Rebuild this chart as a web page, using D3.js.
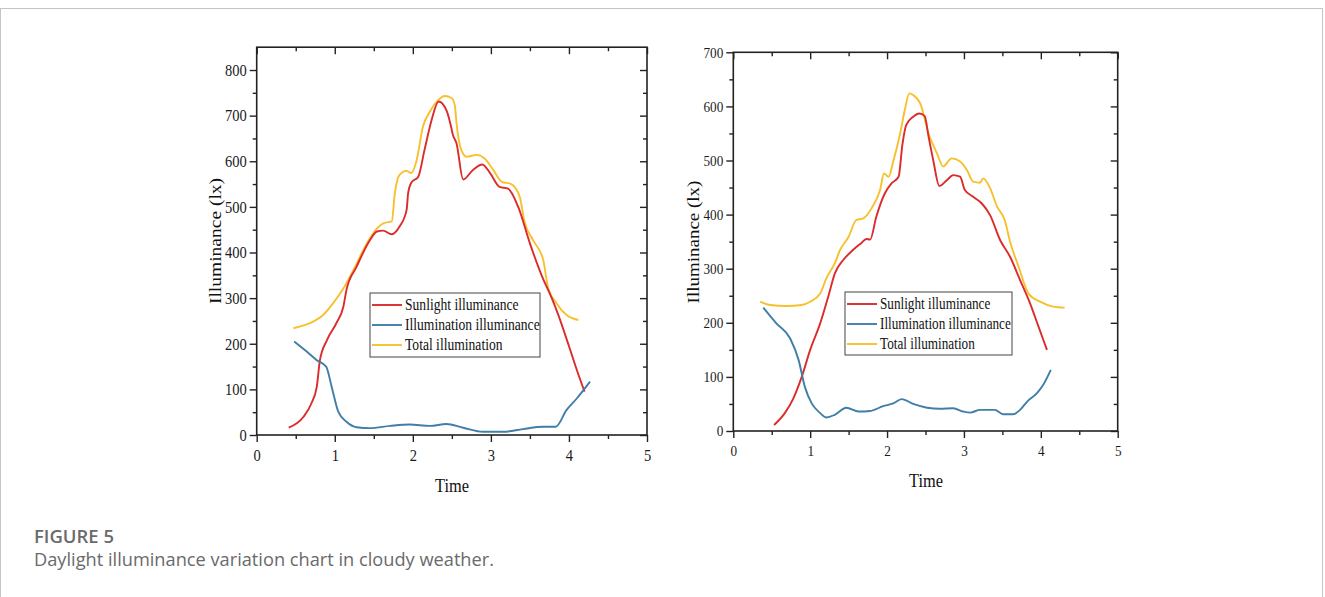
<!DOCTYPE html>
<html>
<head>
<meta charset="utf-8">
<script src="https://cdn.jsdelivr.net/npm/d3@7"></script>
<style>
  html, body { margin: 0; padding: 0; background: #ffffff; }
  svg { display: block; }
</style>
</head>
<body>
<svg id="chart" width="1325" height="597"></svg>
<script>
// ---------- data ----------
const xTicks = [0, 1, 2, 3, 4, 5];
const leftYTicks = [0, 100, 200, 300, 400, 500, 600, 700, 800];
const rightYTicks = [0, 100, 200, 300, 400, 500, 600, 700];
const seriesNames = ["Sunlight illuminance", "Illumination illuminance", "Total illumination"];

const leftSunTime = [0.41,0.6,0.7,0.77,0.81,0.9,1.02,1.11,1.15,1.28,1.45,1.54,1.62,1.73,1.83,1.92,1.94,1.98,2.07,2.15,2.24,2.33,2.43,2.5,2.51,2.56,2.645,2.77,2.89,2.99,3.11,3.22,3.35,3.5,3.65,3.78,3.86,4.0,4.1,4.2];
const leftSunLux  = [16,40,69,106,164,208,245,281,318,369,427,446,448,440,457,493,530,553,566,625,690,731,712,668,660,639,560,581,593,574,544,540,500,420,350,300,265,195,143,95];

const leftIllTime = [0.48,0.64,0.77,0.89,0.96,1.045,1.15,1.28,1.45,1.71,1.96,2.22,2.43,2.645,2.9,3.16,3.41,3.67,3.83,3.97,4.1,4.27];
const leftIllLux  = [205,183,164,150,106,51,29,17,15,20,23,20,24,16,7,7,13,18,18,55,80,117];

const leftTotTime = [0.47,0.68,0.85,0.98,1.11,1.24,1.41,1.54,1.62,1.73,1.77,1.83,1.92,1.98,2.05,2.13,2.22,2.33,2.41,2.5,2.54,2.56,2.62,2.69,2.82,2.92,3.03,3.14,3.26,3.37,3.43,3.54,3.67,3.73,3.84,3.97,4.12];
const leftTotLux  = [234,245,263,289,321,362,420,453,464,468,530,570,579,574,603,676,709,735,743,738,720,683,625,610,614,606,581,555,550,522,468,427,384,325,289,263,252];

const rightSunTime = [0.53,0.67,0.78,0.89,1.0,1.13,1.24,1.32,1.43,1.56,1.67,1.73,1.78,1.86,1.97,2.06,2.15,2.2,2.25,2.34,2.42,2.49,2.54,2.6,2.68,2.78,2.86,2.95,3.01,3.12,3.23,3.34,3.47,3.6,3.73,3.86,3.97,4.08];
const rightSunLux  = [11,33,60,100,150,199,251,291,316,335,348,355,354,396,439,458,470,530,566,581,587,582,544,501,453,464,473,470,446,433,421,399,353,322,279,236,193,150];

const rightIllTime = [0.39,0.56,0.74,0.85,0.93,1.02,1.13,1.21,1.32,1.47,1.63,1.78,1.95,2.08,2.19,2.34,2.52,2.69,2.86,2.99,3.08,3.21,3.4,3.51,3.64,3.73,3.82,3.95,4.03,4.13];
const rightIllLux  = [228,199,171,131,82,51,33,25,30,43,36,37,46,51,59,50,43,41,42,36,34,39,39,31,31,39,54,70,85,113];

const rightTotTime = [0.35,0.48,0.69,0.89,1.0,1.13,1.21,1.32,1.39,1.5,1.6,1.69,1.8,1.91,1.96,2.02,2.08,2.17,2.23,2.29,2.34,2.43,2.54,2.65,2.73,2.84,2.95,3.04,3.12,3.21,3.25,3.34,3.43,3.53,3.6,3.71,3.84,3.99,4.16,4.31];
const rightTotLux  = [239,233,231,233,239,254,282,310,335,359,390,393,412,446,476,470,498,550,593,624,621,606,550,513,489,504,498,482,461,459,467,449,415,390,350,304,254,239,230,228];

// ---------- styles ----------
const colors = ["#dc2b2b", "#3f7fa7", "#f6c12c"];
const serif = "'Liberation Serif', 'Times New Roman', serif";
const sans = "'Open Sans', 'Noto Sans', sans-serif";
const squeeze = 0.84; // the original figure is horizontally compressed

const svg = d3.select("#chart");

// outer frame
svg.append("rect").attr("x", 0.5).attr("y", 8.5).attr("width", 1322).attr("height", 600)
  .attr("fill", "#ffffff").attr("stroke", "#c4c4c4").attr("stroke-width", 1);

function zip(t, v) { return t.map((d, i) => ({ t: d, v: v[i] })); }

function drawPanel(cfg) {
  const x = d3.scaleLinear().domain([0, 5]).range([cfg.left, cfg.right]);
  const y = d3.scaleLinear().domain([0, cfg.yMax]).range([cfg.bottom, cfg.top]);
  const g = svg.append("g");
  const minorX = d3.range(0.5, 5, 1);
  const minorY = d3.range(50, cfg.yMax, 100);

  // series
  const line = d3.line().x(d => x(d.t)).y(d => y(d.v)).curve(d3.curveMonotoneX);
  [2, 0, 1].forEach(i => {
    g.append("path").datum(zip(cfg.series[i][0], cfg.series[i][1]))
      .attr("fill", "none").attr("stroke", colors[i]).attr("stroke-width", 1.9)
      .attr("stroke-linejoin", "round").attr("d", line);
  });

  const styleAxis = sel => {
    sel.select(".domain").remove();
    sel.selectAll(".tick line").attr("stroke", "#222").attr("stroke-width", 1.4);
    sel.selectAll(".tick text").attr("fill", "#1a1a1a").style("font-family", serif)
      .style("font-size", cfg.tickFont + "px").attr("transform", "scale(0.88,1)");
  };

  // bottom
  g.append("g").attr("transform", `translate(0,${cfg.bottom})`)
    .call(d3.axisBottom(x).tickValues(xTicks).tickSize(7).tickPadding(7).tickFormat(d3.format("d"))).call(styleAxis);
  g.append("g").attr("transform", `translate(0,${cfg.bottom})`)
    .call(d3.axisBottom(x).tickValues(minorX).tickSize(4).tickFormat("")).call(styleAxis);
  // top (inward)
  g.append("g").attr("transform", `translate(0,${cfg.top})`)
    .call(d3.axisTop(x).tickValues(xTicks).tickSize(-7).tickFormat("")).call(styleAxis);
  g.append("g").attr("transform", `translate(0,${cfg.top})`)
    .call(d3.axisTop(x).tickValues(minorX).tickSize(-4).tickFormat("")).call(styleAxis);
  // left
  g.append("g").attr("transform", `translate(${cfg.left},0)`)
    .call(d3.axisLeft(y).tickValues(cfg.yTicks).tickSize(7).tickPadding(3).tickFormat(d3.format("d")))
    .call(styleAxis)
    .call(s => s.selectAll(".tick text").attr("x", -10 / 0.88));
  g.append("g").attr("transform", `translate(${cfg.left},0)`)
    .call(d3.axisLeft(y).tickValues(minorY).tickSize(4).tickFormat("")).call(styleAxis);
  // right (inward)
  g.append("g").attr("transform", `translate(${cfg.right},0)`)
    .call(d3.axisRight(y).tickValues(cfg.yTicks).tickSize(-7).tickFormat("")).call(styleAxis);
  g.append("g").attr("transform", `translate(${cfg.right},0)`)
    .call(d3.axisRight(y).tickValues(minorY).tickSize(-4).tickFormat("")).call(styleAxis);

  // frame
  g.append("rect").attr("x", cfg.left).attr("y", cfg.top)
    .attr("width", cfg.right - cfg.left).attr("height", cfg.bottom - cfg.top)
    .attr("fill", "none").attr("stroke", "#222").attr("stroke-width", 1.6);

  // axis titles
  g.append("text").attr("transform", `translate(${cfg.timeX},${cfg.timeY}) scale(${squeeze},1)`)
    .attr("text-anchor", "middle").style("font-family", serif).style("font-size", "19.5px")
    .attr("fill", "#111").text("Time");
  g.append("text").attr("transform", `translate(${cfg.ytX},${cfg.ytY}) rotate(-90) scale(1,${squeeze})`)
    .attr("text-anchor", "middle").style("font-family", serif).style("font-size", cfg.ytFont + "px")
    .attr("fill", "#111").text("Illuminance (lx)");

  // legend
  const lg = g.append("g").attr("transform", `translate(${cfg.legX},${cfg.legY})`);
  lg.append("rect").attr("x", 0).attr("y", 0).attr("width", cfg.legW).attr("height", cfg.legH)
    .attr("fill", "#fff").attr("stroke", "#444").attr("stroke-width", 1);
  seriesNames.forEach((name, i) => {
    const yy = 12 + i * 20;
    lg.append("line").attr("x1", 2).attr("x2", 32).attr("y1", yy).attr("y2", yy)
      .attr("stroke", colors[i]).attr("stroke-width", 1.9);
    lg.append("text").attr("transform", `translate(35,${yy + 5}) scale(0.8,1)`)
      .style("font-family", serif).style("font-size", cfg.legFont + "px").attr("fill", "#111").text(name);
  });
}

drawPanel({
  left: 256.7, right: 647, top: 47.2, bottom: 435, yMax: 850, yTicks: leftYTicks,
  tickFont: 16.5, timeX: 452, timeY: 491.5, ytX: 221, ytY: 241, ytFont: 19.5,
  legX: 370, legY: 293, legW: 170, legH: 64, legFont: 17,
  series: [[leftSunTime, leftSunLux], [leftIllTime, leftIllLux], [leftTotTime, leftTotLux]]
});

drawPanel({
  left: 733.3, right: 1117.7, top: 52.3, bottom: 431, yMax: 700, yTicks: rightYTicks,
  tickFont: 15, timeX: 926, timeY: 487, ytX: 699, ytY: 242, ytFont: 19,
  legX: 845, legY: 292, legW: 167, legH: 63, legFont: 16.5,
  series: [[rightSunTime, rightSunLux], [rightIllTime, rightIllLux], [rightTotTime, rightTotLux]]
});

// caption
svg.append("text").attr("x", 34).attr("y", 543).style("font-family", sans).style("font-size", "18px")
  .style("font-weight", 600).attr("fill", "#6a6a6a")
  .attr("textLength", 80).attr("lengthAdjust", "spacingAndGlyphs").text("FIGURE 5");
svg.append("text").attr("x", 34).attr("y", 566).style("font-family", sans).style("font-size", "18px")
  .attr("fill", "#6a6a6a")
  .attr("textLength", 460).attr("lengthAdjust", "spacingAndGlyphs")
  .text("Daylight illuminance variation chart in cloudy weather.");
</script>
</body>
</html>
